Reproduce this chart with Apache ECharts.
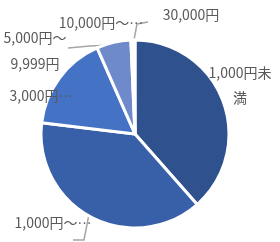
<!DOCTYPE html>
<html>
<head>
<meta charset="utf-8">
<script src="https://cdn.jsdelivr.net/npm/echarts@6/dist/echarts.min.js"></script>
<style>html,body{margin:0;padding:0;background:#fff;}#c{width:280px;height:242px;}</style>
</head>
<body>
<div id="c"></div>
<script>
const categories = ["1,000円未満", "1,000円～2,999円", "3,000円～4,999円", "5,000円～9,999円", "10,000円～29,999円", "30,000円以上"];
const values = [38.5, 38.4, 16.5, 5.9, 0.5, 0.2];
const labelTexts = ["1,000円未\n満", "1,000円～…", "3,000円…", "5,000円～\n9,999円", "10,000円～…", "30,000円"];

const colors = ["#2F528F", "#3860A8", "#4472C4", "#6F8ACB", "#8FAADC", "#B4C7E7"];
const labelPos = [[240, 85, 25], [53, 223, 20], [41, 96, 20], [35, 51, 26], [101, 23, 20], [191, 15, 20]];
const leaderPts = [null, [[89, 214], [84, 240], [73, 240]], null, [[112, 45], [90, 46], [68, 48]], [[134, 40], [137, 24], [148, 22]], null];

const chart = echarts.init(document.getElementById('c'), null, {renderer: 'canvas'});
chart.setOption({
  animation: false,
  series: [{
    type: 'pie',
    center: [135, 134],
    radius: 94,
    startAngle: 90,
    clockwise: true,
    avoidLabelOverlap: false,
    itemStyle: {borderColor: '#fff', borderWidth: 3},
    label: {
      show: true,
      color: '#595959',
      fontSize: 14,
      fontFamily: '"Noto Sans CJK JP", sans-serif',
      align: 'center',
      verticalAlign: 'middle'
    },
    labelLine: {show: true, lineStyle: {color: '#A6A6A6', width: 1.5}, length: 5, length2: 5},
    labelLayout: function (p) {
      const lp = labelPos[p.dataIndex];
      const o = {x: lp[0], y: lp[1], align: 'center', verticalAlign: 'middle'};
      if (leaderPts[p.dataIndex]) o.labelLinePoints = leaderPts[p.dataIndex];
      return o;
    },
    emphasis: {disabled: true},
    data: categories.map((name, i) => ({
      name: name,
      value: values[i],
      itemStyle: {color: colors[i]},
      label: {formatter: labelTexts[i], lineHeight: labelPos[i][2]},
      labelLine: {show: !!leaderPts[i]}
    }))
  }]
});
</script>
</body>
</html>
